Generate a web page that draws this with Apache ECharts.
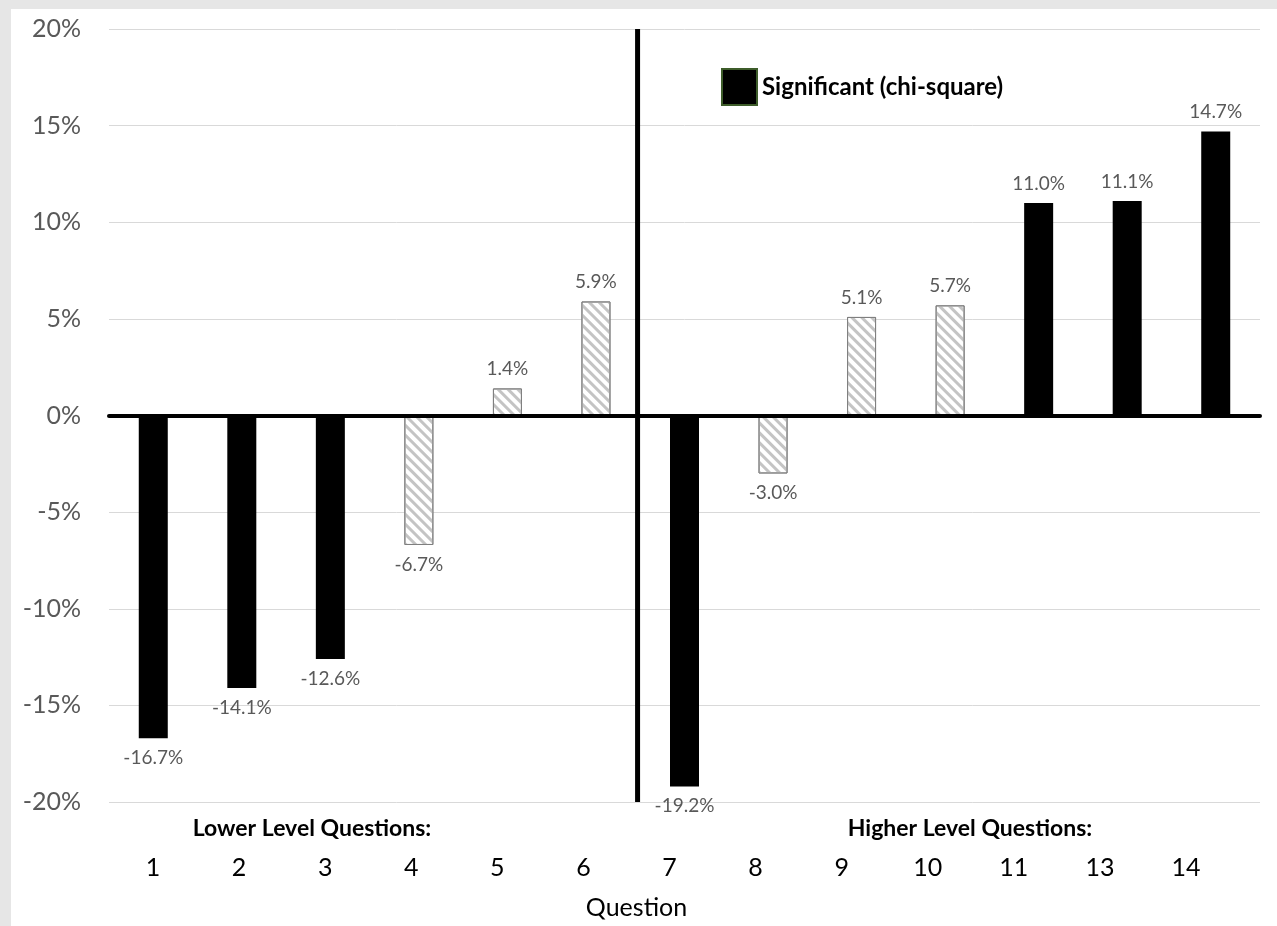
<!DOCTYPE html>
<html>
<head>
<meta charset="utf-8">
<script src="https://cdn.jsdelivr.net/npm/echarts@6/dist/echarts.min.js"></script>
<style>
  html, body { margin: 0; padding: 0; background: #e6e6e6; width: 1277px; height: 926px; overflow: hidden; }
  #chart { position: absolute; left: 11px; top: 9px; width: 1266px; height: 917px; background: #ffffff; }
</style>
</head>
<body>
<div id="chart"></div>
<script>
// ---- data ----
const questions = ['1', '2', '3', '4', '5', '6', '7', '8', '9', '10', '11', '13', '14'];
const significant = [-16.7, -14.1, -12.6, null, null, null, -19.2, null, null, null, 11.0, 11.1, 14.7];
const notSignificant = [null, null, null, -6.7, 1.4, 5.9, null, -3.0, 5.1, 5.7, null, null, null];
const yMin = -20, yMax = 20, yInterval = 5;
const dividerPosition = 5.47; // between question 6 and 7 (category index units)
const groupLabels = ['Lower Level Questions:', 'Higher Level Questions:'];
const legendName = 'Significant (chi-square)';
const axisTitle = 'Question';

const FONT = 'Lato, "Open Sans", sans-serif';

const chart = echarts.init(document.getElementById('chart'), null, { renderer: 'canvas' });

const labelCfg = {
  show: true,
  position: 'outside',
  distance: 10,
  color: '#595959',
  fontFamily: FONT,
  fontSize: 19,
  formatter: p => (p.value == null ? '' : p.value.toFixed(1) + '%')
};

const option = {
  animation: false,
  textStyle: { fontFamily: FONT },
  legend: {
    data: [legendName],
    left: 705,
    top: 54,
    itemWidth: 35,
    itemHeight: 36,
    icon: 'rect',
    itemStyle: { color: '#000', borderColor: '#3d5c2a', borderWidth: 2 },
    textStyle: { fontFamily: FONT, fontSize: 24, fontWeight: 'bold', color: '#000' }
  },
  grid: [
    { left: 98, right: 17, top: 20, bottom: 124 },
    { left: 99, right: 48, top: 20, bottom: 124 }
  ],
  xAxis: [
    {
      type: 'category', gridIndex: 0, data: questions,
      axisLine: { show: true, onZero: true, lineStyle: { color: '#000', width: 4 } },
      axisTick: { show: false }, axisLabel: { show: false }, splitLine: { show: false }, z: 5
    },
    {
      type: 'category', gridIndex: 1, data: questions, position: 'bottom',
      axisLine: { show: false }, axisTick: { show: false },
      axisLabel: { show: true, margin: 53, color: '#000', fontSize: 25, fontFamily: FONT },
      name: axisTitle, nameLocation: 'middle', nameGap: 93,
      nameTextStyle: { color: '#000', fontSize: 25, fontFamily: FONT, padding: [0, 66, 0, 0] }
    },
    {
      type: 'value', gridIndex: 0, min: -0.5, max: questions.length - 0.5, show: false
    }
  ],
  yAxis: [
    {
      type: 'value', gridIndex: 0, min: yMin, max: yMax, interval: yInterval,
      axisLine: { show: false }, axisTick: { show: false },
      axisLabel: { formatter: '{value}%', color: '#595959', fontSize: 25, margin: 28, fontFamily: FONT },
      splitLine: { show: true, lineStyle: { color: '#d9d9d9', width: 1 } }
    },
    {
      type: 'value', gridIndex: 1, min: yMin, max: yMax, show: false, splitLine: { show: false }
    }
  ],
  graphic: [
    {
      type: 'text', x: 301, y: 820,
      style: { text: groupLabels[0], fontFamily: FONT, fontSize: 23, fontWeight: 'bold', fill: '#000', align: 'center', verticalAlign: 'middle' }
    },
    {
      type: 'text', x: 959, y: 820,
      style: { text: groupLabels[1], fontFamily: FONT, fontSize: 23, fontWeight: 'bold', fill: '#000', align: 'center', verticalAlign: 'middle' }
    }
  ],
  series: [
    {
      name: legendName, type: 'bar', xAxisIndex: 0, yAxisIndex: 0,
      data: significant, barWidth: 29, barGap: '-100%',
      itemStyle: { color: '#000' },
      label: labelCfg, z: 3
    },
    {
      name: 'Not significant', type: 'bar', xAxisIndex: 0, yAxisIndex: 0,
      data: notSignificant, barWidth: 29, barGap: '-100%',
      itemStyle: {
        color: '#ffffff', borderColor: '#7f7f7f', borderWidth: 1,
        decal: { symbol: 'rect', symbolSize: 1, dashArrayX: [1, 0], dashArrayY: [3, 4], rotation: Math.PI / 4, color: '#c4c4c4' }
      },
      label: labelCfg, z: 3
    },
    {
      name: 'divider', type: 'line', xAxisIndex: 2, yAxisIndex: 0,
      data: [[dividerPosition, yMax], [dividerPosition, yMin]],
      symbol: 'none', lineStyle: { color: '#000', width: 5 }, z: 4, silent: true
    }
  ]
};
chart.setOption(option);
</script>
</body>
</html>
